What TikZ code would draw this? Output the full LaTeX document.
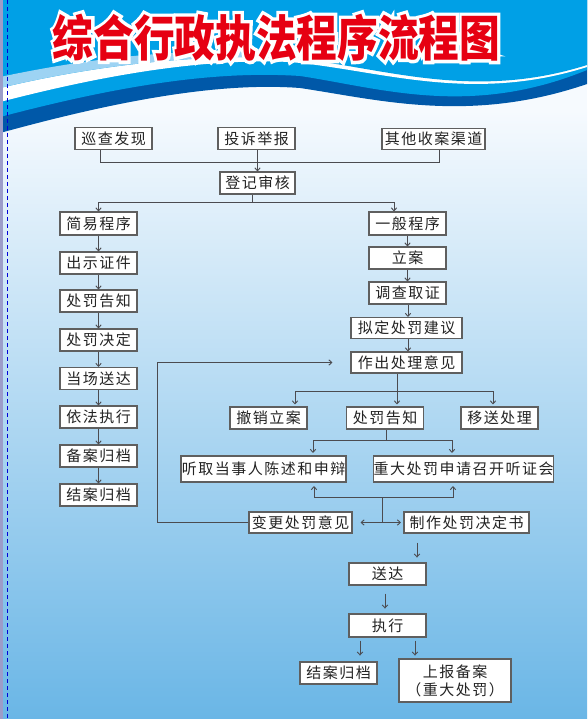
\documentclass[tikz,border=0pt]{standalone}
\usepackage{fontspec}
\usepackage{graphicx}
\newfontfamily\cjk[LetterSpace=10]{Noto Sans CJK SC}
\newfontfamily\cjkt{Noto Sans CJK SC}
\newfontfamily\cjktw[BoldFeatures={FakeBold=14}]{Noto Sans CJK SC}
\usetikzlibrary{arrows.meta}
\definecolor{topblue}{RGB}{0,160,230}
\definecolor{darkblue}{RGB}{0,88,168}
\definecolor{lightstreak}{RGB}{157,211,243}
\definecolor{bgtop}{RGB}{246,250,254}
\definecolor{bgbot}{RGB}{106,182,230}
\definecolor{boxgray}{RGB}{95,95,95}
\definecolor{linegray}{RGB}{75,75,80}
\definecolor{textgray}{RGB}{35,35,35}
\definecolor{titlered}{RGB}{230,0,18}
\tikzset{
  box/.style={draw=boxgray, line width=1.1pt, fill=white, inner sep=0pt,
    minimum height=22pt, minimum width=77pt, text=textgray,
    font=\cjk\fontsize{15}{18}\selectfont},
  conn/.style={draw=linegray, line width=0.9pt},
  arr/.style={conn, -{Straight Barb[length=3pt,width=5.5pt]}},
  ttl/.style={font=\cjkt\bfseries\fontsize{49}{49}\selectfont, inner sep=0pt},
  ttlw/.style={font=\cjktw\bfseries\fontsize{49}{49}\selectfont, inner sep=0pt}
}
\begin{document}
\begin{tikzpicture}[x=1pt,y=-1pt]
\useasboundingbox (0,0) rectangle (587,719);
% background
\fill[bgtop] (0,0) rectangle (587,110);
\shade[top color=bgtop, bottom color=bgbot] (0,110) rectangle (587,719);
% waves
\fill[darkblue] (0,0) -- (0,133) .. controls (120,100) and (220,82) .. (300,88)
  .. controls (380,100) and (470,124) .. (587,84) -- (587,0) -- cycle;
\fill[topblue] (0,0) -- (0,117) .. controls (110,88) and (210,70) .. (300,76)
  .. controls (380,88) and (470,118) .. (587,70) -- (587,0) -- cycle;
\fill[white] (0,0) -- (0,102) .. controls (100,76) and (200,58) .. (290,62)
  .. controls (380,70) and (470,104) .. (587,67) -- (587,0) -- cycle;
\fill[topblue] (0,0) -- (0,88) .. controls (100,64) and (200,54) .. (290,58)
  .. controls (380,66) and (470,102) .. (587,65) -- (587,0) -- cycle;
\fill[lightstreak] (0,77) .. controls (80,60) and (170,48) .. (270,52) -- (290,58)
  .. controls (200,54) and (100,64) .. (0,88) -- cycle;
% left edge
\fill[gray!70!blue!60] (0,0) rectangle (2.5,719);
\draw[blue!85!black, line width=0.8pt, dash pattern=on 4pt off 3pt] (7.3,0) -- (7.3,719);
% title: white outline copy, then red text
\node[ttlw, text=white] (titlebg) at (276.5,37.5) {\scalebox{0.83}[1]{综合行政执法程序流程图}};
\node[ttl, text=titlered] (title) at (276.5,37.5) {\scalebox{0.83}[1]{综合行政执法程序流程图}};
% top row
\node[box] (xc) at (113.5,138.5) {巡查发现};
\node[box] (ts) at (256.5,138.5) {投诉举报};
\node[box, minimum width=103pt, minimum height=21pt] (qt) at (433.5,139) {其他收案渠道};
\node[box, minimum width=75pt] (dj) at (257.5,183) {登记审核};
\node[box, minimum height=23pt] (jy) at (98.5,223.5) {简易程序};
\node[box, minimum height=23pt] (yb) at (407.5,223.5) {一般程序};
% left column
\node[box] (cs) at (98.5,263) {出示证件};
\node[box] (cfa) at (98.5,301) {处罚告知};
\node[box] (jd) at (98.5,340) {处罚决定};
\node[box] (sda) at (98.5,378.5) {当场送达};
\node[box] (yf) at (98.5,417) {依法执行};
\node[box] (ba) at (98.5,456) {备案归档};
\node[box] (jaa) at (98.5,495) {结案归档};
% right column
\node[box] (la) at (407.5,258) {立案};
\node[box] (dc) at (407.5,293) {调查取证};
\node[box, minimum width=111pt, minimum height=21pt] (nd) at (406.5,328) {拟定处罚建议};
\node[box, minimum width=111pt, minimum height=21pt] (zc) at (406.5,362.5) {作出处理意见};
\node[box] (cx) at (268.5,418) {撤销立案};
\node[box] (cfb) at (385,418) {处罚告知};
\node[box] (ys) at (499.5,418) {移送处理};
\node[box, minimum width=165pt, minimum height=26pt] (tq) at (263.5,469) {听取当事人陈述和申辩};
\node[box, minimum width=173pt, minimum height=26pt] (zd) at (463.5,469) {重大处罚申请召开听证会};
\node[box, minimum width=103pt, minimum height=21pt] (bg) at (300.5,522.5) {变更处罚意见};
\node[box, minimum width=125pt, minimum height=21pt] (zz) at (466.5,522.5) {制作处罚决定书};
\node[box] (sdb) at (387.5,574) {送达};
\node[box, minimum height=23pt] (zx) at (387.5,625.5) {执行};
\node[box] (jab) at (338.5,673) {结案归档};
\node[box, minimum width=112pt, minimum height=43pt, align=center] (sb) at (455,680.5) {上报备案\\（重大处罚）};
% connectors top
\draw[conn] ([xshift=-13pt]xc.south) -- ++(0,12.7) -| ([xshift=5.5pt]qt.south);
\draw[arr] (dj.north |- ts.south) -- (dj.north);
\draw[conn] ([xshift=-5.5pt]dj.south) -- ++(0,7.7) coordinate (s2);
\draw[arr] (s2) -| (jy.north);
\draw[arr] (s2) -| ([xshift=-13.5pt]yb.north);
% left column arrows
\foreach \p/\q in {jy/cs, cs/cfa, cfa/jd, jd/sda, sda/yf, yf/ba, ba/jaa}
  \draw[arr] (\p) -- (\q);
% right column arrows
\draw[arr] (yb) -- (la);
\draw[arr] (la) -- (dc);
\draw[arr] ([xshift=0.5pt]dc.south) -- ([xshift=1.5pt]nd.north);
\draw[arr] ([xshift=1.5pt]nd.south) -- ([xshift=1.5pt]zc.north);
% from zc to three
\draw[conn] ([xshift=-9.5pt]zc.south) -- ++(0,17.5) coordinate (h1);
\draw[arr, shorten >=2pt] (h1) -| ([xshift=26.5pt]cx.north);
\draw[arr, shorten >=2pt] (h1) -- ([xshift=12pt]cfb.north);
\draw[arr, shorten >=2pt] (h1) -| ([xshift=-6.5pt]ys.north);
% from cfb to two
\draw[conn] ([xshift=1pt]cfb.south) -- ++(0,11) coordinate (h2);
\draw[arr, shorten >=2.5pt] (h2) -| ([xshift=49.5pt]tq.north);
\draw[arr, shorten >=2.5pt] (h2) -| ([xshift=-11.5pt]zd.north);
% junction below
\coordinate (j) at (382,522.5);
\draw[conn] (j) -- ++(0,-25.5) coordinate (k);
\draw[arr, shorten >=3.5pt] (k) -| ([xshift=50.5pt]tq.south);
\draw[arr, shorten >=3.5pt] (k) -| ([xshift=-10.5pt]zd.south);
\draw[arr] (j) -- ([xshift=8pt]bg.east);
\draw[arr] (j) -- ([xshift=-2.5pt]zz.west);
% loop back
\draw[arr] (bg.west) -- ++(-91,0) |- ([xshift=-18pt]zc.west);
% lower arrows
\draw[arr] ([xshift=-49.5pt,yshift=-9pt]zz.south) -- ++(0,15);
\draw[arr] ([xshift=-2.5pt,yshift=-8pt]sdb.south) -- ++(0,15);
\draw[arr] ([xshift=-27.5pt,yshift=-3pt]zx.south) -- ++(0,15);
\draw[arr] ([xshift=27.5pt,yshift=-3pt]zx.south) -- ++(0,15);
\end{tikzpicture}
\end{document}
